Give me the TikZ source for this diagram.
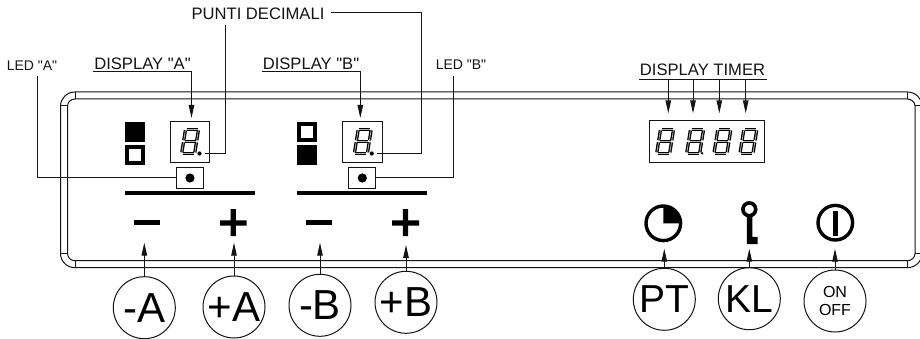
\documentclass[tikz,border=0pt]{standalone}
\usepackage{fontspec}
\newfontfamily\lib{Liberation Sans}
\usetikzlibrary{arrows.meta}
\definecolor{ink}{gray}{0.08}
\tikzset{
  ln/.style={draw=ink,line width=1pt},
  lbl/.style={inner sep=0pt,outer sep=0pt,text=ink,font=\lib\fontsize{16.6}{18}\selectfont},
  smalllbl/.style={inner sep=0pt,outer sep=0pt,text=ink,font=\lib\fontsize{14}{16}\selectfont},
  arr/.style={ln,-{Stealth[length=13pt,width=5.5pt,inset=0pt]}},
  dispbox/.style={ln,inner sep=0pt,outer sep=0pt,rectangle},
  btn/.style={ln,circle,minimum size=62pt,inner sep=0pt,outer sep=0pt,text=black,font=\lib\fontsize{42}{44}\selectfont},
  digit/.pic={
    \begin{scope}[cm={1,0,0.16,1,(0,0)},line cap=butt]
      \foreach \a/\b/\c/\d in {1/0/12/0,1/-12/12/-12,1/-24/12/-24,
                               0/-1/0/-11,13/-1/13/-11,0/-13/0/-23,13/-13/13/-23}{
        \draw[line width=3.3pt,black] (\a,\b) -- (\c,\d);
        \draw[line width=0.8pt,gray!60] (\a,\b) -- (\c,\d);
      }
    \end{scope}
  }
}
\begin{document}
\begin{tikzpicture}[x=1pt,y=-1pt]
\useasboundingbox (0,0) rectangle (920,339);
\clip (0,0) rectangle (920,339);
\fill[white] (0,0) rectangle (920,339);

% panel
\draw[ln] (75,92) -- (907.3,92) arc[start angle=90,end angle=0,x radius=14.7,y radius=-14] -- (922,253.5)
  arc[start angle=0,end angle=-90,x radius=14.7,y radius=-14.2] -- (75,267.7)
  arc[start angle=270,end angle=180,x radius=14.5,y radius=-14.2] -- (60.5,106)
  arc[start angle=180,end angle=90,x radius=14.5,y radius=-14] -- cycle;
\draw[ln] (75,99) -- (907.3,99) arc[start angle=90,end angle=0,x radius=7.7,y radius=-7] -- (915,253.5)
  arc[start angle=0,end angle=-90,x radius=7.7,y radius=-7.2] -- (75,260.7)
  arc[start angle=270,end angle=180,x radius=7.5,y radius=-7.2] -- (67.5,106)
  arc[start angle=180,end angle=90,x radius=7.5,y radius=-7] -- cycle;
\draw[ln] (75,92) -- (75,99) (60.5,106) -- (67.5,106) (907.3,92) -- (907.3,99) (915,106) -- (922,106)
  (75,260.7) -- (75,267.7) (60.5,253.5) -- (67.5,253.5) (907.3,260.7) -- (907.3,267.7) (915,253.5) -- (922,253.5);

% displays
\node[dispbox,minimum width=39.4pt,minimum height=41.7pt] (dispA) at (190,141.9) {};
\node[dispbox,minimum width=39.7pt,minimum height=41.7pt] (dispB) at (362.2,141.9) {};
\node[dispbox,minimum width=114.7pt,minimum height=42pt] (dispT) at (706.7,142) {};
\pic at (181.7,153.3) {digit};
\pic at (354.4,153.3) {digit};
\pic at (656.7,153.3) {digit};
\pic at (686.7,153.3) {digit};
\pic at (714,153.3) {digit};
\pic at (740,153.3) {digit};
\fill[black] (199.5,153.5) circle (2.1) (371.8,153.5) circle (2.1);
\fill[black] (702,153.3) circle (1.3);

% LEDs
\node[dispbox,minimum width=26.6pt,minimum height=20.6pt] (ledA) at (190,178) {};
\node[dispbox,minimum width=26.7pt,minimum height=20.6pt] (ledB) at (362.3,178) {};
\fill[black] (ledA.center) circle (4.6) (ledB.center) circle (4.6);

% indicator squares
\fill[black] (125,122) rectangle (145,142);
\draw[black,line width=3.6pt] (126.8,146.8) rectangle (143.2,163.2);
\draw[black,line width=3.6pt] (298.8,123.8) rectangle (315.2,140.2);
\fill[black] (297,145) rectangle (317,165);

% bars
\fill[black] (125,190.5) rectangle (255,195);
\fill[black] (297,190.5) rectangle (427,195);

% minus / plus
\fill[black] (134,220.2) rectangle (160,225.4);
\fill[black] (306,220.2) rectangle (332,225.4);
\fill[black] (220,220.4) rectangle (246.5,225.6) (230.6,209) rectangle (235.9,236);
\fill[black] (392,220.4) rectangle (419,225.6) (402.8,209) rectangle (408.1,236);

% icons
\draw[black,line width=3.4pt] (663.3,223.3) circle (17.3);
\fill[black] (663.3,223.3) -- (663.3,206) arc[start angle=90,end angle=0,radius=17.3,y radius=-17.3] -- cycle;
\draw[black,line width=3.6pt] (749.3,209.3) circle (6.4);
\fill[black] (746.8,215) rectangle (752.3,244) (752,236.8) rectangle (757.5,244);
\draw[black,line width=3.4pt] (835.3,222.7) circle (17.3);
\fill[black] (833,210.7) rectangle (837.6,236);

% buttons
\node[btn] (mA) at (144.3,307.7) {-A};
\node[btn] (pA) at (234,307) {+A};
\node[btn] (mB) at (320,305.3) {-B};
\node[btn] (pB) at (406,302.3) {+B};
\node[btn,font=\lib\fontsize{39}{41}\selectfont] (pt) at (664.3,299.3) {PT};
\node[btn,font=\lib\fontsize{39}{41}\selectfont] (kl) at (749.3,298.7) {KL};
\node[btn,font=\lib\fontsize{16}{18.5}\selectfont,align=center] (oo) at (835,301) {ON\\OFF};

\coordinate (tmA) at (144.3,242.7);
\coordinate (tpA) at (234,242.7);
\coordinate (tmB) at (320,242.7);
\coordinate (tpB) at (406,245);
\coordinate (tpt) at (664.3,248.7);
\coordinate (tkl) at (749.3,248.7);
\coordinate (too) at (835,248.7);
\draw[arr] (mA.north) -- (tmA);
\draw[arr] (pA.north) -- (tpA);
\draw[arr] (mB.north) -- (tmB);
\draw[arr] (pB.north) -- (tpB);
\draw[arr] (pt.north) -- (tpt);
\draw[arr] (kl.north) -- (tkl);
\draw[arr] (oo.north) -- (too);

% labels
\node[smalllbl] (lLA) at (32,66) {LED "A"};
\node[smalllbl] (lLB) at (461,65) {LED "B"};
\node[lbl] (lDA) at (142.5,63.5) {DISPLAY "A"};
\node[lbl] (lDB) at (311,63.5) {DISPLAY "B"};
\node[lbl] (lPD) at (258,14) {PUNTI DECIMALI};
\node[lbl] (lDT) at (702.5,69.5) {DISPLAY TIMER};

% leaders
\coordinate (eLA) at (37,76);
\coordinate (eLB) at (453.3,76);
\draw[ln] (ledA.west) -| (eLA);
\draw[ln] (ledB.east) -| (eLB);
\coordinate (pdStartL) at (225.5,25);
\coordinate (dpA) at (205,154);
\draw[ln] (pdStartL) |- (dpA);
\coordinate (pdStartR) at (330.7,13);
\coordinate (pdMid) at (421.7,13);
\coordinate (dpB) at (377.3,154);
\draw[ln] (pdStartR) -- (pdMid) |- (dpB);

% display A / B callouts
\coordinate (uA0) at (93,71.7);
\coordinate (uA1) at (191.5,71.7);
\coordinate (tA) at (191.5,118);
\draw[arr] (uA0) -- (uA1) -- (tA);
\coordinate (uB0) at (262,71.7);
\coordinate (uB1) at (360.3,71.7);
\coordinate (tB) at (360.3,118);
\draw[arr] (uB0) -- (uB1) -- (tB);

% display timer callouts
\coordinate (uT0) at (639,79.3);
\coordinate (uT1) at (767.3,79.3);
\draw[ln] (uT0) -- (uT1);
\foreach \n/\x in {a/668.3,b/693,c/719.3,d/745.7}{
  \coordinate (ts\n) at (\x,79.3);
  \coordinate (te\n) at (\x,113.3);
  \draw[arr] (ts\n) -- (te\n);
}
\end{tikzpicture}
\end{document}
